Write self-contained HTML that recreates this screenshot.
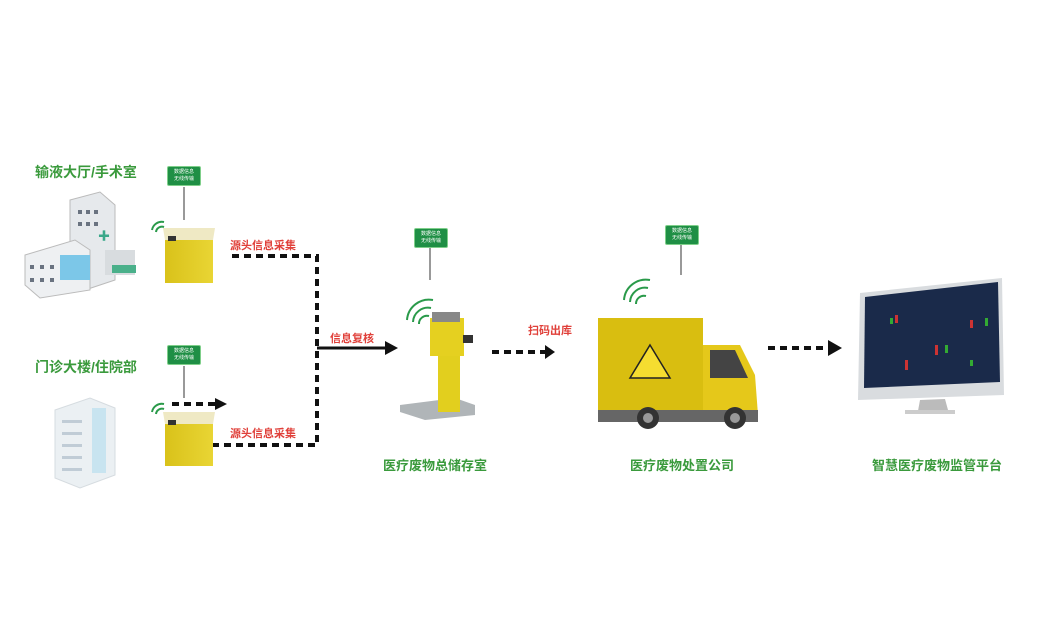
<!DOCTYPE html>
<html><head><meta charset="utf-8"><style>
body{margin:0;width:1062px;height:630px;background:#fff;position:relative;overflow:hidden;font-family:"Liberation Sans","Noto Sans CJK SC",sans-serif}
.a{position:absolute}
.t{position:absolute;color:#3a9a3c;font-weight:bold;font-size:14px;white-space:nowrap}
.r{position:absolute;color:#e0403a;font-weight:bold;font-size:11px;white-space:nowrap}
.b{position:absolute;background:#1f8f45;color:#fff;font-size:5px;line-height:7px;text-align:center;border-radius:2px;padding:2px 1px;width:30px;border:1px solid #7fcf8a}
</style></head><body>
<svg class="a" style="left:0;top:0" width="1062" height="630">
<defs>
<linearGradient id="y" x1="0" x2="1"><stop offset="0" stop-color="#d9c21a"/><stop offset="1" stop-color="#e9d534"/></linearGradient>
</defs>
<!-- connector lines -->
<g stroke="#111" stroke-width="4" fill="none" stroke-dasharray="7,5">
<path d="M232 256 H317 V445 H212"/>
<path d="M172 404 H215"/>
<path d="M492 352 H545"/>
<path d="M768 348 H825"/>
</g>
<path d="M317 348 H385" stroke="#111" stroke-width="3"/>
<g fill="#111">
<polygon points="215,398 227,404 215,410"/>
<polygon points="385,341 398,348 385,355"/>
<polygon points="545,345 555,352 545,359"/>
<polygon points="828,340 842,348 828,356"/>
</g>
<!-- badge lines -->
<g stroke="#333" stroke-width="1">
<line x1="184" y1="187" x2="184" y2="220"/>
<line x1="184" y1="366" x2="184" y2="398"/>
<line x1="430" y1="248" x2="430" y2="280"/>
<line x1="681" y1="245" x2="681" y2="275"/>
</g>
<!-- wifi -->
<g stroke="#2a9a4a" stroke-width="2" fill="none">
<path d="M152 230 a10 10 0 0 1 12 -8"/><path d="M156 232 a6 6 0 0 1 8 -5"/>
<path d="M152 412 a10 10 0 0 1 12 -8"/><path d="M156 414 a6 6 0 0 1 8 -5"/>
<path d="M407 320 a22 22 0 0 1 26 -20"/><path d="M413 322 a15 15 0 0 1 18 -14"/><path d="M419 324 a8 8 0 0 1 10 -8"/>
<path d="M624 300 a22 22 0 0 1 26 -20"/><path d="M630 302 a15 15 0 0 1 18 -14"/><path d="M636 304 a8 8 0 0 1 10 -8"/>
</g>
<!-- building 1 -->
<g>
<polygon points="70,200 100,192 115,205 115,280 85,290 70,275" fill="#e6e9ec" stroke="#bbb"/>
<polygon points="25,255 75,240 90,250 90,290 40,298 25,285" fill="#eef0f2" stroke="#bbb"/>
<rect x="60" y="255" width="30" height="25" fill="#7cc7e8"/>
<rect x="105" y="250" width="30" height="25" fill="#d8dcdf"/>
<g fill="#6a7380"><rect x="78" y="210" width="4" height="4"/><rect x="86" y="210" width="4" height="4"/><rect x="94" y="210" width="4" height="4"/><rect x="78" y="222" width="4" height="4"/><rect x="86" y="222" width="4" height="4"/><rect x="94" y="222" width="4" height="4"/><rect x="30" y="265" width="4" height="4"/><rect x="40" y="265" width="4" height="4"/><rect x="50" y="265" width="4" height="4"/><rect x="30" y="278" width="4" height="4"/><rect x="40" y="278" width="4" height="4"/><rect x="50" y="278" width="4" height="4"/></g>
<rect x="112" y="265" width="24" height="8" fill="#4ab08a"/>
<text x="98" y="240" fill="#3aa88a" font-size="12">✚</text>
</g>
<!-- building 2 -->
<g opacity="0.85">
<polygon points="55,410 90,398 115,408 115,475 80,488 55,478" fill="#e8eef2" stroke="#cfd6db"/>
<rect x="92" y="408" width="14" height="65" fill="#bfe0ee"/>
<g fill="#b6c4cf"><rect x="62" y="420" width="20" height="3"/><rect x="62" y="432" width="20" height="3"/><rect x="62" y="444" width="20" height="3"/><rect x="62" y="456" width="20" height="3"/><rect x="62" y="468" width="20" height="3"/></g>
</g>
<!-- bins -->
<g>
<rect x="165" y="235" width="48" height="48" fill="url(#y)"/>
<polygon points="163,228 215,228 213,240 165,240" fill="#efe9c4"/>
<rect x="168" y="236" width="8" height="5" fill="#333"/>
<rect x="165" y="418" width="48" height="48" fill="url(#y)"/>
<polygon points="163,412 215,412 213,424 165,424" fill="#efe9c4"/>
<rect x="168" y="420" width="8" height="5" fill="#333"/>
</g>
<!-- scale -->
<g>
<polygon points="400,405 455,398 475,405 475,415 425,420 400,412" fill="#b0b5b8"/>
<rect x="438" y="330" width="22" height="82" fill="#e2cf1e"/>
<rect x="430" y="318" width="34" height="38" fill="#e5d020"/>
<rect x="432" y="312" width="28" height="10" fill="#888"/>
<rect x="463" y="335" width="10" height="8" fill="#333"/>
</g>
<!-- truck -->
<g>
<rect x="598" y="318" width="105" height="95" fill="#d9be10"/>
<polygon points="703,345 740,345 755,375 758,415 703,415" fill="#e5c81a"/>
<polygon points="710,350 735,350 748,378 710,378" fill="#444"/>
<polygon points="650,345 670,378 630,378" fill="#f5dd30" stroke="#222" stroke-width="1.5"/>
<rect x="598" y="410" width="160" height="12" fill="#666"/>
<circle cx="648" cy="418" r="11" fill="#333"/><circle cx="648" cy="418" r="5" fill="#999"/>
<circle cx="735" cy="418" r="11" fill="#333"/><circle cx="735" cy="418" r="5" fill="#999"/>
</g>
<!-- monitor -->
<g>
<polygon points="860,293 1002,278 1004,395 858,400" fill="#d9dcdf"/>
<polygon points="865,297 998,282 1000,382 864,388" fill="#1a2a4a"/>
<g fill="#c33"><rect x="895" y="315" width="3" height="8"/><rect x="935" y="345" width="3" height="10"/><rect x="970" y="320" width="3" height="8"/><rect x="905" y="360" width="3" height="10"/></g>
<g fill="#3a3"><rect x="890" y="318" width="3" height="6"/><rect x="945" y="345" width="3" height="8"/><rect x="985" y="318" width="3" height="8"/><rect x="970" y="360" width="3" height="6"/></g>
<polygon points="920,400 945,399 948,410 918,411" fill="#bbb"/>
<rect x="905" y="410" width="50" height="4" fill="#ccc"/>
</g>
</svg>
<div class="t" style="left:35px;top:162px">输液大厅/手术室</div>
<div class="t" style="left:35px;top:357px">门诊大楼/住院部</div>
<div class="t" style="left:383px;top:455px;font-size:13px">医疗废物总储存室</div>
<div class="t" style="left:630px;top:455px;font-size:13px">医疗废物处置公司</div>
<div class="t" style="left:872px;top:455px;font-size:13px">智慧医疗废物监管平台</div>
<div class="r" style="left:230px;top:237px">源头信息采集</div>
<div class="r" style="left:230px;top:425px">源头信息采集</div>
<div class="r" style="left:330px;top:330px">信息复核</div>
<div class="r" style="left:528px;top:322px">扫码出库</div>
<div class="b" style="left:167px;top:166px">数据信息<br>无线传输</div>
<div class="b" style="left:167px;top:345px">数据信息<br>无线传输</div>
<div class="b" style="left:414px;top:228px">数据信息<br>无线传输</div>
<div class="b" style="left:665px;top:225px">数据信息<br>无线传输</div>
</body></html>
